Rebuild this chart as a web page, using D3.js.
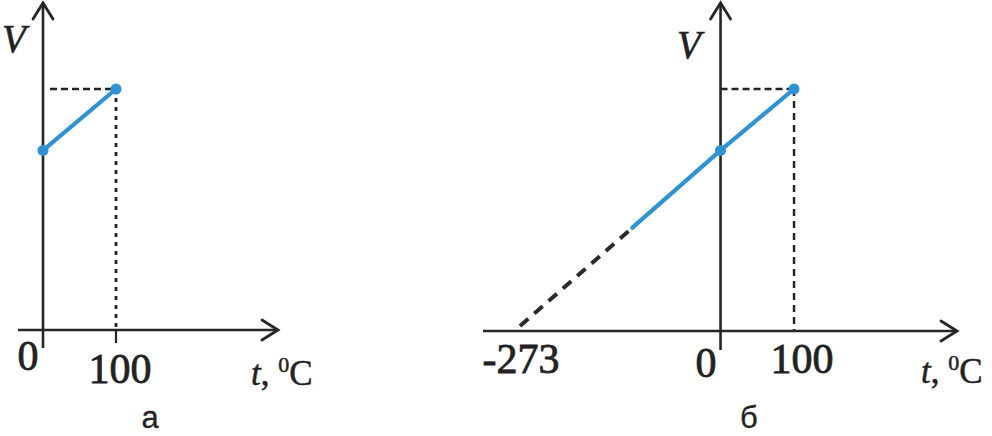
<!DOCTYPE html>
<html>
<head>
<meta charset="utf-8">
<script src="https://cdn.jsdelivr.net/npm/d3@7"></script>
<style>
  html, body { margin: 0; padding: 0; background: #ffffff; }
  svg { display: block; }
</style>
</head>
<body>
<svg id="chart" width="992" height="436"></svg>
<script>
// ---- data ----
const tempA = [0, 100];            // panel а: measured range, °C
const volA = [1, 1.35];            // relative volume
const tempB = [-273, -120, 0, 100]; // panel б: extrapolated to absolute zero
const volB = [0, 0.56, 1, 1.35];
const ticksA = ["0", "100"];
const ticksB = ["-273", "0", "100"];
const axisTitleX = "t";
const axisUnit = "C";
const axisTitleY = "V";
const panelNames = ["а", "б"];

const svg = d3.select("#chart");
const axisColor = "#262626";
const blue = "#2e92d6";
const serif = "'Liberation Serif', 'Times New Roman', serif";

// shared V scale
const y = d3.scaleLinear().domain([0, 1.35]).range([326, 89]);

// panel scales
const xA = d3.scaleLinear().domain([0, 100]).range([43, 116]);
const xB = d3.scaleLinear().domain([-273, 100]).range([520, 794]);

const line = d3.line().x(d => d[0]).y(d => d[1]);

function arrowAxes(g, x0, yAxis, xStart, xEnd, yTop, yBottom) {
  g.append("line").attr("x1", xStart).attr("x2", xEnd).attr("y1", yAxis).attr("y2", yAxis)
    .attr("stroke", axisColor).attr("stroke-width", 2.6);
  g.append("path").attr("d", line([[xEnd - 16, yAxis - 10], [xEnd, yAxis], [xEnd - 16, yAxis + 10]]))
    .attr("fill", "none").attr("stroke", axisColor).attr("stroke-width", 2.8)
    .attr("stroke-linejoin", "miter").attr("stroke-linecap", "round");
  g.append("line").attr("x1", x0).attr("x2", x0).attr("y1", yBottom).attr("y2", yTop)
    .attr("stroke", axisColor).attr("stroke-width", 2.6);
  g.append("path").attr("d", line([[x0 - 10, yTop + 16], [x0, yTop], [x0 + 10, yTop + 16]]))
    .attr("fill", "none").attr("stroke", axisColor).attr("stroke-width", 2.8)
    .attr("stroke-linejoin", "miter").attr("stroke-linecap", "round");
}

function axisTitle(g, xPos, yPos) {
  const t = g.append("text").attr("x", xPos).attr("y", yPos)
    .attr("font-family", serif).attr("font-size", 35).attr("fill", "#222")
    .attr("stroke", "#222").attr("stroke-width", 0.5);
  t.append("tspan").attr("font-style", "italic").text(axisTitleX);
  t.append("tspan").text(", ");
  t.append("tspan").attr("font-size", 22).attr("dy", -13).text("0");
  t.append("tspan").attr("dy", 13).text(axisUnit);
}

function vTitle(g, xPos, yPos) {
  g.append("text").attr("x", xPos).attr("y", yPos)
    .attr("font-family", serif).attr("font-size", 39).attr("font-style", "italic")
    .attr("fill", "#222").attr("stroke", "#222").attr("stroke-width", 0.6).text(axisTitleY);
}

function tickLabel(g, xPos, yPos, txt) {
  g.append("text").attr("x", xPos).attr("y", yPos).attr("text-anchor", "middle")
    .attr("font-family", serif).attr("font-size", 42).attr("fill", "#222")
    .attr("stroke", "#222").attr("stroke-width", 0.8).text(txt);
}

function panelName(g, xPos, txt) {
  g.append("text").attr("x", xPos).attr("y", 428).attr("text-anchor", "middle")
    .attr("font-family", "'Liberation Sans', Arial, sans-serif").attr("font-size", 31)
    .attr("fill", "#222").attr("stroke", "#222").attr("stroke-width", 0.3).text(txt);
}

// ---------- Panel а ----------
const gA = svg.append("g");
const a0 = xA(0), a100 = xA(100);
gA.append("line").attr("x1", a0 + 7).attr("x2", a100).attr("y1", y(volA[1])).attr("y2", y(volA[1]))
  .attr("stroke", "#222").attr("stroke-width", 2.4).attr("stroke-dasharray", "7 4");
gA.append("line").attr("x1", a100).attr("x2", a100).attr("y1", y(volA[1])).attr("y2", 330)
  .attr("stroke", "#222").attr("stroke-width", 2.8).attr("stroke-dasharray", "4 5");
gA.append("line").attr("x1", a100).attr("x2", a100).attr("y1", 330).attr("y2", 343)
  .attr("stroke", axisColor).attr("stroke-width", 2.2);
arrowAxes(gA, a0, 330, 18, 278, 3, 348);
gA.append("path").attr("d", line(tempA.map((t, i) => [xA(t), y(volA[i])])))
  .attr("fill", "none").attr("stroke", blue).attr("stroke-width", 4.2).attr("stroke-linecap", "round");
gA.selectAll("circle").data(tempA).join("circle")
  .attr("cx", d => xA(d)).attr("cy", (d, i) => y(volA[i])).attr("r", 5.5).attr("fill", blue);
vTitle(gA, 2, 52);
tickLabel(gA, 28, 370, ticksA[0]);
tickLabel(gA, 120, 383, ticksA[1]);
axisTitle(gA, 251, 385);
panelName(gA, 150, panelNames[0]);

// ---------- Panel б ----------
const gB = svg.append("g");
const b0 = xB(0), b100 = xB(100);
gB.append("line").attr("x1", b0).attr("x2", b100).attr("y1", y(volB[3])).attr("y2", y(volB[3]))
  .attr("stroke", "#222").attr("stroke-width", 2.4).attr("stroke-dasharray", "7 4");
gB.append("line").attr("x1", b100).attr("x2", b100).attr("y1", y(volB[3])).attr("y2", 331)
  .attr("stroke", "#222").attr("stroke-width", 2.4).attr("stroke-dasharray", "7 5");
arrowAxes(gB, b0, 331, 483, 957, 3, 350);
gB.append("path").attr("d", line([[xB(tempB[0]), y(volB[0])], [xB(tempB[1]), y(volB[1])]]))
  .attr("fill", "none").attr("stroke", "#2a2a2a").attr("stroke-width", 4)
  .attr("stroke-dasharray", "11 8");
gB.append("path").attr("d", line(tempB.slice(1).map((t, i) => [xB(t), y(volB[i + 1])])))
  .attr("fill", "none").attr("stroke", blue).attr("stroke-width", 4.2).attr("stroke-linecap", "round");
gB.selectAll("circle").data(tempB.slice(2)).join("circle")
  .attr("cx", d => xB(d)).attr("cy", (d, i) => y(volB[i + 2])).attr("r", 5.5).attr("fill", blue);
vTitle(gB, 677, 58);
tickLabel(gB, 521, 373, ticksB[0]);
tickLabel(gB, 706, 377, ticksB[1]);
tickLabel(gB, 802, 373, ticksB[2]);
axisTitle(gB, 921, 383);
panelName(gB, 749, panelNames[1]);
</script>
</body>
</html>
